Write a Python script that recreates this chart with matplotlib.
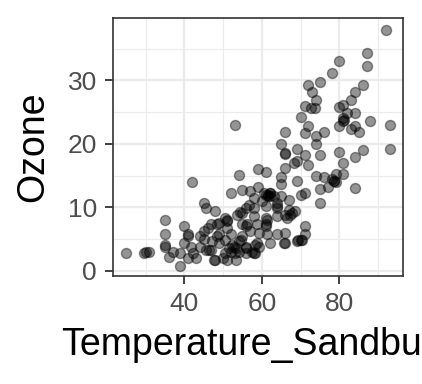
import numpy as np
import matplotlib
matplotlib.use("Agg")
import matplotlib.pyplot as plt
from matplotlib.ticker import MultipleLocator

# values (Temperature_Sandburg vs Ozone)
temperature = [
    92, 87, 87, 80, 78, 75, 72, 73, 74, 71, 73.7, 72.7, 70, 72, 71, 76, 74,
    86, 84, 83, 81, 80, 84, 82, 81, 81, 80, 84, 83, 85, 88, 93, 93, 86, 84,
    80, 81, 81, 79, 78.7, 78, 76, 74, 77, 75, 71, 84, 75, 69, 72, 71, 75, 69,
    74, 69, 68.6, 71, 71, 70, 69, 65, 66, 68.4, 66, 65, 65, 59, 61, 54, 52,
    55, 57, 59, 62, 61.7, 63, 65, 67, 70, 58, 60, 64, 56.6, 53, 42, 45, 48,
    35, 40, 41, 41, 35, 35, 35, 25, 30, 31, 29.7, 36, 37, 39, 39, 40, 41.7,
    41, 43, 44, 45, 46, 48.5, 50.6, 51, 53.6, 55, 56, 58, 44, 45.5, 47,
    47.6, 49, 48.5, 50.6, 51, 50.6, 52, 52.8, 53, 53.2, 54, 55, 56, 55.8,
    57.5, 58.3, 58.8, 57, 56, 51, 55, 48, 50, 52, 54, 52.4, 49, 47, 49, 51,
    54.3, 57.9, 61, 64, 67, 67.7, 66, 64, 61.3, 61, 58.8, 56.2, 59.2, 61.3,
    64, 66, 62.2, 65.6, 70.3, 58.3, 57.9, 55.8, 51.5, 53.2, 54.5, 47.2,
    46.4, 66, 66, 62.2, 64, 67.3, 66.5, 61, 61, 66, 59.2, 69.4, 45.6, 45.2,
    42.2, 61, 62, 61.5, 60.5, 78.5, 79, 81.3,
]
ozone = [
    38, 34.4, 32.2, 33.1, 31.1, 29.8, 29.3, 28.1, 26.9, 25.9, 25.7, 25.7,
    24.2, 22.8, 21.7, 21.9, 21.2, 29.3, 28.2, 26.9, 26.2, 25.8, 24.9, 24.9,
    24, 23.6, 22.8, 22.8, 22.4, 21.9, 23.6, 23, 19.2, 19, 17.9, 18.7, 16.9,
    15.2, 15.3, 14.1, 14.4, 14.8, 14.9, 13.2, 12.8, 12.3, 13, 10.7, 14.1,
    16.7, 18.3, 18.3, 19.2, 20, 17.3, 9.4, 7, 5.7, 4.9, 4.7, 20, 18.4, 17,
    16.2, 14.8, 13.7, 16, 15.6, 15.1, 12.3, 12.7, 12.5, 13.2, 12.3, 12,
    11.7, 11.7, 11.2, 12, 11.5, 11, 10.7, 10.4, 22.9, 13.9, 10.7, 9.4, 8,
    7.1, 5.7, 5.4, 5.7, 4.1, 3.7, 2.7, 3, 2.9, 2.7, 2.2, 2.9, 2.7, 0.75,
    4.3, 3.8, 2, 2, 5.4, 6.2, 6.7, 7.3, 8.3, 7.8, 8.8, 9.1, 7, 8.6, 3.8,
    3.3, 3.3, 1.7, 4.3, 5.4, 2.7, 1.7, 4.9, 5.7, 3.8, 2.7, 1.7, 4.6, 5.4,
    3.8, 2.7, 3, 2.7, 4.3, 6.2, 9.9, 6.7, 7.3, 1.7, 2, 3, 3, 4.1, 5.7, 7.3,
    7.5, 8, 9.3, 9.9, 10.2, 9.9, 9.6, 9.1, 8.8, 8.6, 8, 7.3, 7.3, 7.3, 5.9,
    5.7, 5.7, 5.9, 4.3, 4.3, 4.9, 4.1, 2.7, 3.5, 3.5, 3.5, 4.9, 4.6, 3.3,
    18.6, 21.9, 11.7, 10.2, 8.8, 8.3, 8.3, 7, 4.3, 3.8, 4.9, 9.9, 5, 2.7,
    12, 12.3, 11.8, 12.2, 14.2, 14, 23.8,
]

temperature = np.array(temperature)
ozone = np.array(ozone)

plt.rcParams["font.family"] = ["Liberation Sans", "DejaVu Sans"]

fig = plt.figure(figsize=(4.22, 3.84), dpi=100)
ax = fig.add_axes([113 / 422, 1 - 276 / 384, 290 / 422, 258 / 384])

ax.scatter(temperature, ozone, s=52, facecolor=(0, 0, 0, 0.42),
           edgecolor=(0, 0, 0, 0.42), linewidth=1.0, zorder=3)

# ggplot-like limits (5% expansion of the data range)
ax.set_xlim(21.6, 96.4)
ax.set_ylim(-0.85, 39.85)

ax.set_xticks([40, 60, 80])
ax.set_xticks([30, 50, 70, 90], minor=True)
ax.yaxis.set_major_locator(MultipleLocator(10))
ax.yaxis.set_minor_locator(MultipleLocator(5))

ax.grid(which="major", color="#EBEBEB", linewidth=1.6, zorder=0)
ax.grid(which="minor", color="#EBEBEB", linewidth=0.8, zorder=0)
ax.set_axisbelow(True)

for sp in ax.spines.values():
    sp.set_color("#333333")
    sp.set_linewidth(1.2)

ax.tick_params(which="major", length=6, width=1.3, color="#333333",
               labelsize=19, labelcolor="#4D4D4D", pad=5.5)
ax.tick_params(which="minor", length=0)

ax.set_xlabel("Temperature_Sandburg", fontsize=27, color="black", labelpad=8)
ax.set_ylabel("Ozone", fontsize=27, color="black", labelpad=12)

fig.savefig("out.png", dpi=100)
